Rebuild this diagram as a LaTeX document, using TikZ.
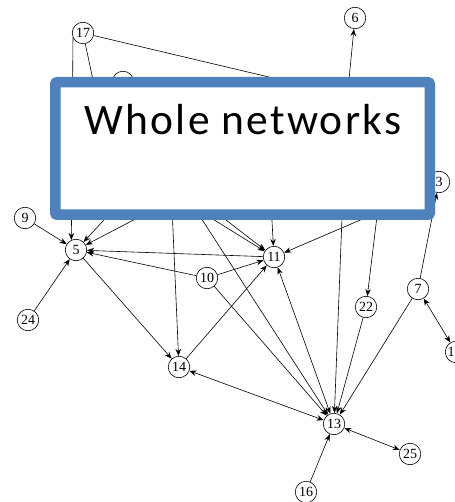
\documentclass[tikz,border=0pt]{standalone}
\usepackage{fontspec}
\setmainfont{Liberation Serif}
\newfontfamily\titlefont[LetterSpace=5]{Carlito}
\usetikzlibrary{arrows.meta}
\definecolor{frameblue}{HTML}{4F81BD}
\begin{document}
\begin{tikzpicture}[x=1pt,y=-1pt,
  vtx/.style={circle,draw,line width=0.6pt,minimum size=21.5pt,inner sep=0pt,
    font=\fontsize{14}{14}\selectfont,fill=white},
  tip/.tip={Stealth[length=7pt,width=5.5pt]},
  edge/.style={line width=0.6pt,-tip},
  biedge/.style={line width=0.6pt,tip-tip},
  plain/.style={line width=0.6pt}]
\useasboundingbox (0,0) rectangle (454,502);

% vertices
\node[vtx] (n17) at (83,33) {17};
\node[vtx] (n6) at (355,18) {6};
\node[vtx] (nx) at (123,82) {};
\node[vtx] (n3) at (439,182) {3};
\node[vtx] (n9) at (25,218) {9};
\node[vtx] (n5) at (76,250) {5};
\node[vtx] (n24) at (28,320) {24};
\node[vtx] (n10) at (207,278) {10};
\node[vtx] (n11) at (274,257) {11};
\node[vtx] (n22) at (366,307) {22};
\node[vtx] (n7) at (418,289) {7};
\node[vtx, label={[font=\fontsize{14}{14}\selectfont, inner sep=0pt, xshift=-5pt]center:1}] (n1) at (456,352) {};
\node[vtx] (n14) at (179,367) {14};
\node[vtx] (n13) at (334,424) {13};
\node[vtx] (n25) at (410,454) {25};
\node[vtx] (n16) at (306,492) {16};

% ends of edges that run under the panel
\coordinate (h1) at (101.5,120);
\coordinate (h2) at (300,84.4);
\coordinate (h3) at (345,120);
\coordinate (h4) at (385,150);
\coordinate (h5) at (407,200);
\coordinate (h6) at (345,140);
\coordinate (h7) at (268,150);
\coordinate (h8) at (200,200);
\coordinate (h9) at (182,200);
\coordinate (h10) at (183,190);
\coordinate (h11) at (169.5,150);
\coordinate (h12) at (172,200);
\coordinate (h13) at (132,190);

% edges
\draw[edge] (n17.205) -- (n5.115);
\draw[plain] (n17) -- (h1);
\draw[plain] (n17) -- (h2);
\draw[edge] (h3) -- (n6);
\draw[edge] (n7) -- (n3);
\draw[biedge] (n7) -- (n1);
\draw[edge] (n7) -- (n13);
\draw[edge] (n22) -- (n13);
\draw[edge] (h4) -- (n22);
\draw[edge] (h5) -- (n11);
\draw[edge] (h6) -- (n13);
\draw[edge] (h7) -- (n11);
\draw[edge] (h8) -- (n11);
\draw[edge] (h9) -- (n11);
\draw[edge] (h10) -- (n13);
\draw[edge] (h11) -- (n14);
\draw[edge] (h12) -- (n5);
\draw[edge] (h13) -- (n5);
\draw[edge] (n9) -- (n5);
\draw[edge] (n24) -- (n5);
\draw[edge] (n10) -- (n5);
\draw[edge] (n11) -- (n5);
\draw[edge] (n10) -- (n11);
\draw[edge] (n10) -- (n13);
\draw[edge] (n5) -- (n14);
\draw[edge] (n14) -- (n11);
\draw[biedge] (n14) -- (n13);
\draw[biedge] (n11) -- (n13);
\draw[biedge] (n25) -- (n13);
\draw[edge] (n16) -- (n13);

% title panel
\draw[frameblue, line width=10.5pt, fill=white, rounded corners=2pt]
  (55.25,82.25) rectangle (429.75,214.75);
\node[font=\titlefont\fontsize{43.5}{50}\selectfont, anchor=base, inner sep=0pt]
  (title) at (243,135) {Whole networks};
\end{tikzpicture}
\end{document}
